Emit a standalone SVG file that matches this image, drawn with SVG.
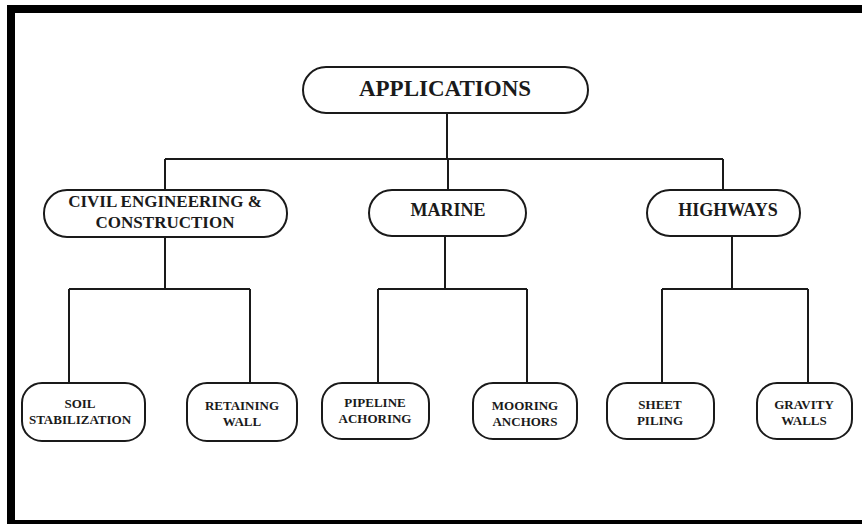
<svg xmlns="http://www.w3.org/2000/svg" width="862" height="524" viewBox="0 0 862 524">
<style>
.box{fill:#fff;stroke:#1a1a1a;stroke-width:2}
.t{font-family:"Liberation Serif","Times New Roman",serif;font-weight:bold;fill:#1a1a1a;text-anchor:middle}
.conn{fill:none;stroke:#1a1a1a;stroke-width:2}
</style>
<rect x="0" y="0" width="862" height="524" fill="#fff"/>
<rect x="11" y="9" width="900" height="515" fill="none" stroke="#000" stroke-width="8"/>
<g id="connectors" class="conn">
<path d="M447 113 V159 M165 159 H723 M165 159 V190 M448 159 V190 M723 159 V190"/>
<path d="M165 237 V289 M69 289 H250 M69 289 V383 M250 289 V383"/>
<path d="M445 236 V289 M378 289 H527 M378 289 V383 M527 289 V383"/>
<path d="M732 236 V289 M662 289 H808 M662 289 V383 M808 289 V383"/>
</g>
<g id="applications">
<rect class="box" x="303" y="67" width="285" height="46" rx="23"/>
<text class="t" x="445" y="96" font-size="23">APPLICATIONS</text>
</g>
<g id="civil">
<rect class="box" x="44" y="190" width="243" height="47" rx="23"/>
<text class="t" x="165" y="207" font-size="17">CIVIL ENGINEERING &amp;</text>
<text class="t" x="165" y="228" font-size="17">CONSTRUCTION</text>
</g>
<g id="marine">
<rect class="box" x="369" y="190" width="157" height="46" rx="23"/>
<text class="t" x="448" y="216" font-size="18">MARINE</text>
</g>
<g id="highways">
<rect class="box" x="647" y="190" width="153" height="46" rx="23"/>
<text class="t" x="728" y="216" font-size="18">HIGHWAYS</text>
</g>
<g id="soil">
<rect class="box" x="22" y="383" width="123" height="58" rx="20"/>
<text class="t" x="80" y="408" font-size="13">SOIL</text>
<text class="t" x="80" y="424" font-size="13">STABILIZATION</text>
</g>
<g id="retaining">
<rect class="box" x="187" y="383" width="110" height="58" rx="20"/>
<text class="t" x="242" y="410" font-size="13">RETAINING</text>
<text class="t" x="242" y="426" font-size="13">WALL</text>
</g>
<g id="pipeline">
<rect class="box" x="322" y="383" width="107" height="56" rx="20"/>
<text class="t" x="375" y="407" font-size="13">PIPELINE</text>
<text class="t" x="375" y="423" font-size="13">ACHORING</text>
</g>
<g id="mooring">
<rect class="box" x="473" y="383" width="104" height="56" rx="20"/>
<text class="t" x="525" y="410" font-size="13">MOORING</text>
<text class="t" x="525" y="426" font-size="13">ANCHORS</text>
</g>
<g id="sheet">
<rect class="box" x="607" y="383" width="107" height="56" rx="20"/>
<text class="t" x="660" y="409" font-size="13">SHEET</text>
<text class="t" x="660" y="425" font-size="13">PILING</text>
</g>
<g id="gravity">
<rect class="box" x="757" y="383" width="95" height="56" rx="20"/>
<text class="t" x="804" y="409" font-size="13">GRAVITY</text>
<text class="t" x="804" y="425" font-size="13">WALLS</text>
</g>
</svg>
